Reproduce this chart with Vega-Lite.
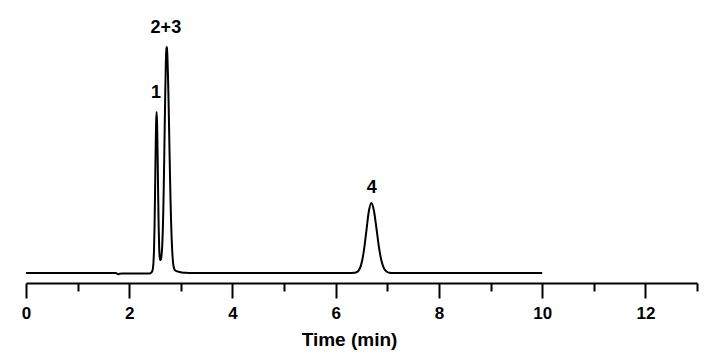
{
  "$schema": "https://vega.github.io/schema/vega-lite/v6.json",
  "autosize": {"type": "none"},
  "padding": {"left": 26, "top": 20, "right": 30, "bottom": 74},
  "width": 671,
  "height": 263,
  "background": "white",
  "config": {
    "view": {"stroke": null},
    "font": "Liberation Sans"
  },
  "datasets": {
    "trace": [
      {"t": 0, "s": 0}, {"t": 1.0, "s": 0}, {"t": 1.74, "s": 0}, {"t": 1.77, "s": -0.8},
      {"t": 1.79, "s": -1.3}, {"t": 1.81, "s": -0.7}, {"t": 1.86, "s": -0.6}, {"t": 2.0, "s": -0.6},
      {"t": 2.2, "s": -0.5}, {"t": 2.40, "s": -0.4}, {"t": 2.42, "s": 0.2}, {"t": 2.43, "s": 0.5},
      {"t": 2.44, "s": 1.2}, {"t": 2.45, "s": 2.5}, {"t": 2.46, "s": 5}, {"t": 2.47, "s": 11},
      {"t": 2.48, "s": 23}, {"t": 2.49, "s": 46}, {"t": 2.50, "s": 79}, {"t": 2.51, "s": 117},
      {"t": 2.52, "s": 149}, {"t": 2.53, "s": 161}, {"t": 2.54, "s": 149}, {"t": 2.55, "s": 118},
      {"t": 2.56, "s": 80}, {"t": 2.57, "s": 47}, {"t": 2.58, "s": 26}, {"t": 2.59, "s": 16},
      {"t": 2.60, "s": 13}, {"t": 2.61, "s": 13}, {"t": 2.62, "s": 15}, {"t": 2.63, "s": 20},
      {"t": 2.64, "s": 28}, {"t": 2.65, "s": 42}, {"t": 2.66, "s": 62}, {"t": 2.67, "s": 89},
      {"t": 2.68, "s": 121}, {"t": 2.69, "s": 155}, {"t": 2.70, "s": 186}, {"t": 2.71, "s": 211},
      {"t": 2.72, "s": 224}, {"t": 2.725, "s": 226}, {"t": 2.73, "s": 225}, {"t": 2.74, "s": 216},
      {"t": 2.75, "s": 199}, {"t": 2.76, "s": 177}, {"t": 2.77, "s": 151}, {"t": 2.78, "s": 123},
      {"t": 2.79, "s": 97}, {"t": 2.80, "s": 73}, {"t": 2.81, "s": 53}, {"t": 2.82, "s": 37},
      {"t": 2.83, "s": 25}, {"t": 2.84, "s": 16}, {"t": 2.85, "s": 10}, {"t": 2.86, "s": 6.5},
      {"t": 2.87, "s": 4.5}, {"t": 2.88, "s": 3.2}, {"t": 2.90, "s": 2.2}, {"t": 2.93, "s": 1.6},
      {"t": 2.97, "s": 1.1}, {"t": 3.02, "s": 0.6}, {"t": 3.10, "s": 0.2}, {"t": 3.2, "s": 0},
      {"t": 5.0, "s": 0}, {"t": 6.20, "s": 0}, {"t": 6.30, "s": 0.1}, {"t": 6.35, "s": 0.2},
      {"t": 6.39, "s": 0.5}, {"t": 6.44, "s": 2.2}, {"t": 6.49, "s": 7.6}, {"t": 6.54, "s": 20.1},
      {"t": 6.59, "s": 40.2}, {"t": 6.64, "s": 61}, {"t": 6.69, "s": 70}, {"t": 6.74, "s": 62.5},
      {"t": 6.79, "s": 44.5}, {"t": 6.84, "s": 25.2}, {"t": 6.89, "s": 11.4}, {"t": 6.94, "s": 4.1},
      {"t": 6.99, "s": 1.2}, {"t": 7.04, "s": 0.3}, {"t": 7.10, "s": 0}, {"t": 8.5, "s": 0},
      {"t": 10.0, "s": 0}
    ],
    "labels": [
      {"t": 2.52, "s": 175, "label": "1"},
      {"t": 2.71, "s": 240, "label": "2+3"},
      {"t": 6.70, "s": 80, "label": "4"}
    ]
  },
  "layer": [
    {
      "data": {"name": "trace"},
      "mark": {"type": "line", "color": "black", "strokeWidth": 2, "interpolate": "monotone", "clip": true},
      "encoding": {
        "x": {
          "field": "t", "type": "quantitative",
          "scale": {"domain": [0, 13], "nice": false, "zero": false},
          "axis": {
            "title": "Time (min)",
            "values": [0, 1, 2, 3, 4, 5, 6, 7, 8, 9, 10, 11, 12, 13],
            "labelExpr": "datum.value % 2 === 0 ? datum.label : ''",
            "grid": false,
            "domainColor": "black",
            "domainWidth": 2,
            "tickColor": "black",
            "tickWidth": 2,
            "tickSize": {"condition": {"test": "datum.value % 2 === 0", "value": 15}, "value": 8},
            "labelColor": "black",
            "labelFont": "Liberation Sans",
            "labelFontSize": 17,
            "labelFontWeight": "bold",
            "labelPadding": 7,
            "labelFlush": false,
            "labelOverlap": false,
            "titleColor": "black",
            "titleFont": "Liberation Sans",
            "titleFontSize": 19,
            "titleFontWeight": "bold",
            "titlePadding": 9,
            "titleX": 323
          }
        },
        "y": {
          "field": "s", "type": "quantitative",
          "scale": {"domain": [-10, 253], "nice": false, "zero": false},
          "axis": null
        }
      }
    },
    {
      "data": {"name": "labels"},
      "mark": {"type": "text", "color": "black", "font": "Liberation Sans", "fontSize": 18, "fontWeight": "bold", "baseline": "alphabetic", "align": "center"},
      "encoding": {
        "x": {"field": "t", "type": "quantitative"},
        "y": {"field": "s", "type": "quantitative"},
        "text": {"field": "label"}
      }
    }
  ]
}
